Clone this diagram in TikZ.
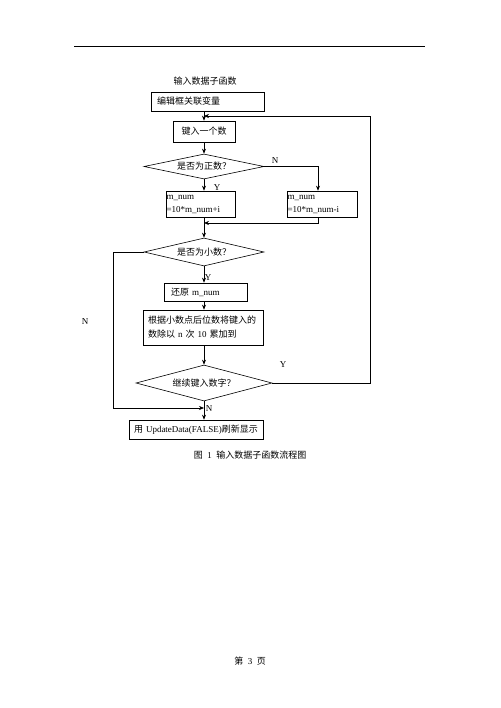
\documentclass[tikz,border=0pt]{standalone}
\usepackage{fontspec}
\setmainfont{Liberation Serif}
\newfontfamily\cjk{Noto Sans CJK SC}
\usetikzlibrary{shapes.geometric,arrows.meta}
\begin{document}
\begin{tikzpicture}[x=1pt,y=-1pt,
  font=\fontsize{9pt}{14pt}\selectfont,
  box/.style={draw,line width=0.6pt,inner ysep=1pt,anchor=center},
  dia/.style={draw,diamond,inner sep=0pt,line width=0.6pt},
  arr/.style={draw,line width=0.6pt,-{Stealth[length=5pt,width=4pt]}},
  lbl/.style={inner sep=0pt}]
\useasboundingbox (0,0) rectangle (500,708);
\fill[white] (0,0) rectangle (500,708);
\draw[line width=0.6pt] (74,46) -- (425,46);

\node[lbl] (title) at (205,81) {{\cjk 输入数据子函数}};
\node[box, text width=101pt, inner xsep=6pt, minimum height=19pt, align=left] (b1) at (207.5,101.5) {{\cjk 编辑框关联变量}};
\node[box, minimum width=62pt, minimum height=21pt] (b2) at (204,131.5) {{\cjk 键入一个数}};
\node[dia, aspect=4.8, minimum width=120pt, minimum height=25pt] (d1) at (204,166.5) {{\cjk 是否为正数？}};
\node[box, text width=68pt, inner xsep=0.5pt, minimum height=26pt, align=left, font=\fontsize{9pt}{13pt}\selectfont] (bL) at (200.5,204) {m\_num\\=10*m\_num+i};
\node[box, text width=69pt, inner xsep=0.5pt, minimum height=26pt, align=left, font=\fontsize{9pt}{13pt}\selectfont] (bR) at (322,204) {m\_num\\=10*m\_num-i};
\node[dia, aspect=4.3, minimum width=120pt, minimum height=28pt] (d2) at (204,252) {{\cjk 是否为小数？}};
\node[box, text width=69pt, inner xsep=7pt, minimum height=18pt, align=left] (b3) at (205.5,292) {{\cjk 还原} m\_num};
\node[box, text width=110pt, inner xsep=5pt, minimum height=35pt, align=left] (b4) at (203,327.5) {{\cjk 根据小数点后位数将键入的}\\{\cjk 数除以} n {\cjk 次} 10 {\cjk 累加到}};
\node[dia, aspect=3.8, minimum width=136pt, minimum height=36pt] (d3) at (204,383) {{\cjk 继续键入数字？}};
\node[box, text width=124pt, inner xsep=5pt, minimum height=19pt, align=left] (b5) at (196,429.5) {\mbox{{\cjk 用} UpdateData(FALSE){\cjk 刷新显示}}};
\node[lbl] (cap) at (250,455) {{\cjk 图}\enspace1\enspace{\cjk 输入数据子函数流程图}};
\node[lbl] (foot) at (250,661) {{\cjk 第}\enspace3\enspace{\cjk 页}};

\node[lbl] (n1) at (275,161) {N};
\node[lbl] (y1) at (217,188) {Y};
\node[lbl] (y2) at (208,278) {Y};
\node[lbl] (n2) at (85,322) {N};
\node[lbl] (y3) at (283,365) {Y};
\node[lbl] (n3) at (209,409) {N};

\coordinate (lj) at (204,116);
\coordinate (rc) at (370,116);
\coordinate (mj) at (204,223);
\coordinate (lc) at (113,408);
\coordinate (nj) at (204,408);

\draw[arr] (b2.north |- b1.south) -- (b2.north);
\draw[arr] (d3.east) -| (rc) -- (lj);
\draw[arr] (b2.south) -- (d1.north);
\draw[arr] (d1.south) -- (d1.south |- bL.north);
\draw[arr] (d1.east) -| ([xshift=-4pt]bR.north);
\draw[arr] ([xshift=-4pt]bR.south) |- (mj);
\draw[arr] (d1.south |- bL.south) -- (d2.north);
\draw[arr] (d2.south) -- (d2.south |- b3.north);
\draw[arr] (d2.south |- b3.south) -- (d2.south |- b4.north);
\draw[arr] (d2.south |- b4.south) -- (d3.north);
\draw[arr] (d2.west) -| (lc) -- (nj);
\draw[arr] (d3.south) -- (d3.south |- b5.north);
\end{tikzpicture}
\end{document}
